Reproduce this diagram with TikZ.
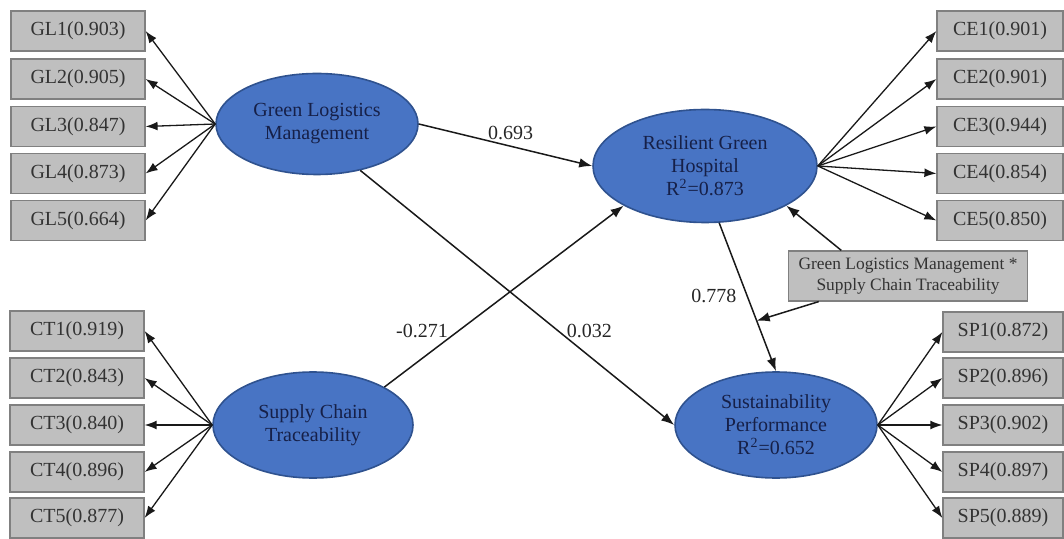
\documentclass[tikz,border=0pt]{standalone}
\usepackage{fontspec}
\setmainfont{Liberation Serif}
\usepackage{xcolor}
\usepackage{tikz}
\usetikzlibrary{calc,arrows.meta,positioning,shapes}
\definecolor{latfill}{RGB}{72,116,196}
\definecolor{latdraw}{RGB}{47,82,143}
\definecolor{lattext}{RGB}{22,32,72}
\definecolor{indfill}{RGB}{191,191,191}
\definecolor{inddraw}{RGB}{128,128,128}

\begin{document}
\begin{tikzpicture}[x=0.5pt,y=-0.5pt,
    lat/.style={ellipse,draw=latdraw,line width=0.8pt,fill=latfill,text=lattext,font=\fontsize{10}{11.5}\selectfont,inner sep=0pt,align=center},
    ind/.style={rectangle,draw=inddraw,line width=0.6pt,fill=indfill,text=black!80,font=\fontsize{10}{12}\selectfont,minimum width=67pt,minimum height=20pt,inner sep=0pt},
    mbox/.style={rectangle,draw=inddraw,line width=0.6pt,fill=indfill,text=black!80,font=\fontsize{8.7}{10.5}\selectfont,minimum width=119.5pt,minimum height=25pt,inner sep=0pt,align=center},
    ld/.style={draw=black!90,line width=0.65pt,-{Latex[length=6pt,width=4.4pt]}},
    ed/.style={draw=black!90,line width=0.75pt,-{Latex[length=6.5pt,width=4.8pt]}},
    coef/.style={font=\fontsize{10}{12}\selectfont,text=black!85,inner sep=1pt}]
   \useasboundingbox (0,0) rectangle (1064,539);
   % latent constructs
   \node[lat,minimum width=101pt,minimum height=50.5pt] (glm) at (317,124) {Green Logistics\\Management};
   \node[lat,minimum width=100pt,minimum height=53pt]   (sct) at (313,425) {Supply Chain\\Traceability};
   \node[lat,minimum width=112pt,minimum height=56.5pt] (rgh) at (705,166) {Resilient Green\\Hospital\\R\textsuperscript{2}=0.873};
   \node[lat,minimum width=101pt,minimum height=53pt]   (sp)  at (776,425) {Sustainability\\Performance\\R\textsuperscript{2}=0.652};
   \node[mbox] (mod) at (908,276) {Green Logistics Management *\\Supply Chain Traceability};
   % indicators
   \node[ind] (gl1) at (78,31)    {GL1(0.903)};
   \node[ind] (gl2) at (78,79)    {GL2(0.905)};
   \node[ind] (gl3) at (78,126.5) {GL3(0.847)};
   \node[ind] (gl4) at (78,173.5) {GL4(0.873)};
   \node[ind] (gl5) at (78,220.5) {GL5(0.664)};
   \node[ind] (ct1) at (77,331)   {CT1(0.919)};
   \node[ind] (ct2) at (77,378)   {CT2(0.843)};
   \node[ind] (ct3) at (77,425)   {CT3(0.840)};
   \node[ind] (ct4) at (77,472)   {CT4(0.896)};
   \node[ind] (ct5) at (77,518)   {CT5(0.877)};
   \node[ind,minimum width=63pt] (ce1) at (1000,31)    {CE1(0.901)};
   \node[ind,minimum width=63pt] (ce2) at (1000,79)    {CE2(0.901)};
   \node[ind,minimum width=63pt] (ce3) at (1000,126.5) {CE3(0.944)};
   \node[ind,minimum width=63pt] (ce4) at (1000,173.5) {CE4(0.854)};
   \node[ind,minimum width=63pt] (ce5) at (1000,220.5) {CE5(0.850)};
   \node[ind,minimum width=60pt] (sp1) at (1003,332)   {SP1(0.872)};
   \node[ind,minimum width=60pt] (sp2) at (1003,378)   {SP2(0.896)};
   \node[ind,minimum width=60pt] (sp3) at (1003,425)   {SP3(0.902)};
   \node[ind,minimum width=60pt] (sp4) at (1003,472)   {SP4(0.897)};
   \node[ind,minimum width=60pt] (sp5) at (1003,518)   {SP5(0.889)};
   % loadings
   \draw[ld] (glm.west)--(gl1.east); \draw[ld] (glm.west)--(gl2.east); \draw[ld] (glm.west)--(gl3.east);
   \draw[ld] (glm.west)--(gl4.east); \draw[ld] (glm.west)--(gl5.east);
   \draw[ld] (sct.west)--(ct1.east); \draw[ld] (sct.west)--(ct2.east); \draw[ld] (sct.west)--(ct3.east);
   \draw[ld] (sct.west)--(ct4.east); \draw[ld] (sct.west)--(ct5.east);
   \draw[ld] (rgh.east)--(ce1.west); \draw[ld] (rgh.east)--(ce2.west); \draw[ld] (rgh.east)--(ce3.west);
   \draw[ld] (rgh.east)--(ce4.west); \draw[ld] (rgh.east)--(ce5.west);
   \draw[ld] (sp.east)--(sp1.west); \draw[ld] (sp.east)--(sp2.west); \draw[ld] (sp.east)--(sp3.west);
   \draw[ld] (sp.east)--(sp4.west); \draw[ld] (sp.east)--(sp5.west);
   % structural paths
   \draw[ed] (glm.east)--node[coef,pos=0.53,above=2pt]{0.693}(rgh.west);
   \draw[ed] (glm.-47)--node[coef,pos=0.63,right=3pt]{0.032}(sp.west);
   \draw[ed] (sct.28)--node[coef,pos=0.31,left=4pt]{-0.271}(rgh.206);
   \draw[ed] (rgh.-76)--node[coef,pos=0.49,left=4pt]{0.778} coordinate[pos=0.66] (hit) (sp.north);
   \draw[ed] (mod.159)--(rgh.-26);
   \draw[ed] (mod.196)--(hit);
  \end{tikzpicture}
\end{document}
